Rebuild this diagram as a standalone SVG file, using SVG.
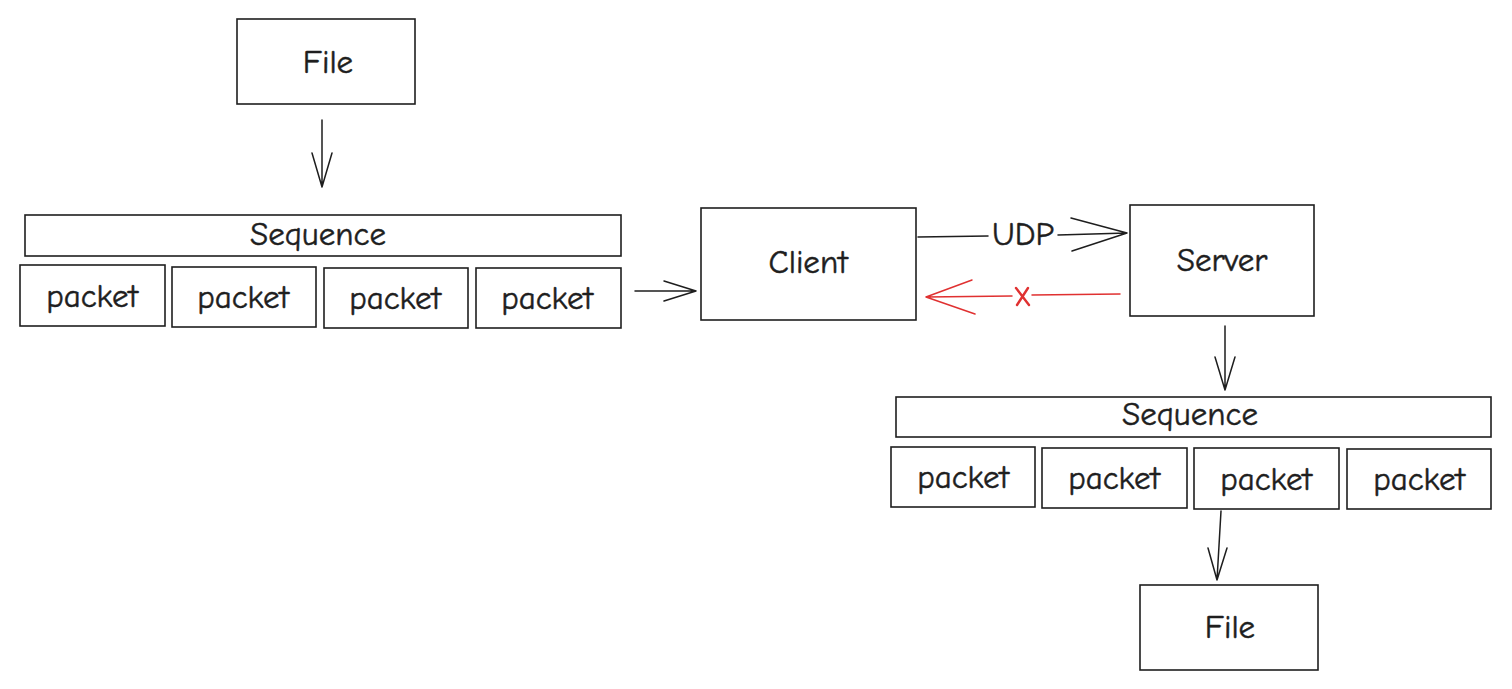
<svg xmlns="http://www.w3.org/2000/svg" width="1512" height="689" viewBox="0 0 1512 689">
<style>
.box{fill:#ffffff;stroke:#1e1e1e;stroke-width:1.6}
.t{font-family:"Comic Neue","Noto Sans","Liberation Sans",sans-serif;font-size:33px;fill:#1e1e1e;stroke:#1e1e1e;stroke-width:0.5;text-anchor:middle;dominant-baseline:central}
.c{fill:none;stroke:#1e1e1e;stroke-width:1.5;stroke-linecap:round;stroke-linejoin:round}
.r{fill:none;stroke:#e03131;stroke-width:1.5;stroke-linecap:round;stroke-linejoin:round}
</style>
<rect width="1512" height="689" fill="#ffffff"/>
<g id="file-top"><rect class="box" x="237" y="19" width="178" height="85"/><text class="t" x="328" y="62">File</text></g>
<g id="seq-left"><rect class="box" x="25" y="215" width="596" height="41"/><text class="t" x="318" y="234">Sequence</text></g>
<g id="pl1"><rect class="box" x="20" y="265" width="145" height="61"/><text class="t" x="92" y="296">packet</text></g>
<g id="pl2"><rect class="box" x="172" y="267" width="144" height="60"/><text class="t" x="243" y="297">packet</text></g>
<g id="pl3"><rect class="box" x="324" y="268" width="144" height="60"/><text class="t" x="395" y="298">packet</text></g>
<g id="pl4"><rect class="box" x="476" y="268" width="145" height="60"/><text class="t" x="547" y="298">packet</text></g>
<g id="client"><rect class="box" x="701" y="208" width="215" height="112"/><text class="t" x="808" y="262">Client</text></g>
<g id="server"><rect class="box" x="1130" y="205" width="184" height="111"/><text class="t" x="1222" y="260">Server</text></g>
<g id="seq-right"><rect class="box" x="896" y="397" width="595" height="40"/><text class="t" x="1190" y="414">Sequence</text></g>
<g id="pr1"><rect class="box" x="891" y="447" width="144" height="60"/><text class="t" x="963" y="477">packet</text></g>
<g id="pr2"><rect class="box" x="1042" y="448" width="145" height="60"/><text class="t" x="1114" y="478">packet</text></g>
<g id="pr3"><rect class="box" x="1194" y="448" width="145" height="61"/><text class="t" x="1266" y="479">packet</text></g>
<g id="pr4"><rect class="box" x="1347" y="449" width="144" height="60"/><text class="t" x="1419" y="479">packet</text></g>
<g id="file-bottom"><rect class="box" x="1140" y="585" width="178" height="85"/><text class="t" x="1230" y="627">File</text></g>
<g id="connectors">
<path class="c" d="M322 120 L322 187 M312 153 L322 187 L332 153"/>
<path class="c" d="M635 291 L696 291 M664 281 L696 291 L664 301"/>
<path class="c" d="M918 237 L988 236 M1058 235 L1127 233 M1071 218 L1127 233 L1072 251"/>
<text class="t" x="1023" y="234">UDP</text>
<path class="r" d="M1120 294 L1032 295 M1012 296 L926 297 M972 280 L926 297 L975 314"/>
<path d="M1016 288 L1029 305 M1028 288 L1017 305" fill="none" stroke="#e03131" stroke-width="2.4" stroke-linecap="round"/>
<path class="c" d="M1225 326 L1225 390 M1215 357 L1225 390 L1235 357"/>
<path class="c" d="M1221 511 L1217 580 M1208 548 L1217 580 L1227 548"/>
</g>
</svg>
